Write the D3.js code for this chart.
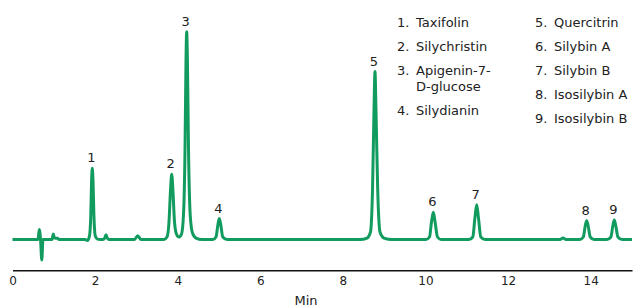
<!DOCTYPE html>
<html>
<head>
<meta charset="utf-8">
<title>Chromatogram</title>
<style>
  body { margin: 0; padding: 0; background: #fff; }
  svg text { font-family: "DejaVu Sans", Verdana, sans-serif; fill: #222; }
</style>
</head>
<body>
<div id="chart"></div>
<script src="https://d3js.org/d3.v7.min.js"></script>
<script>
// retention time (min) and detector signal (scaled so peak 3 = 100)
var traceTime = [
  0, 0.617, 0.649, 0.680, 0.709, 0.738, 0.956, 0.988, 1.017, 1.090, 1.126,
  1.755, 1.816, 1.864, 1.896, 1.915, 1.932, 1.949, 1.971, 2.005, 2.058, 2.119,
  2.191, 2.228, 2.264, 2.300, 2.337,
  2.954, 3.031, 3.111,
  3.668, 3.741, 3.789, 3.826, 3.855, 3.884, 3.923, 3.971, 4.031,
  4.092, 4.140, 4.177, 4.201, 4.218, 4.235, 4.262, 4.303, 4.358, 4.443, 4.588,
  4.855, 4.927, 4.976, 5.007, 5.039, 5.092, 5.194,
  8.414, 8.584, 8.668, 8.717, 8.753, 8.777, 8.801, 8.843, 8.898, 8.995, 9.189,
  10.012, 10.097, 10.145, 10.189, 10.232, 10.291, 10.375,
  11.053, 11.145, 11.196, 11.240, 11.283, 11.339, 11.441,
  13.257, 13.329, 13.402,
  13.741, 13.821, 13.867, 13.903, 13.939, 13.990, 14.080,
  14.395, 14.489, 14.535, 14.571, 14.608, 14.659, 14.758, 15.0
];
var traceSignal = [
  0, 0, 4.8, -0.2, -9.9, 0, 0, 2.6, 0.7, 0.6, 0,
  0, -0.5, 1.7, 11.8, 28.6, 34.3, 28.6, 11.8, 1.7, 0.2, 0,
  0, 0.5, 2.3, 0.5, 0,
  0, 1.8, 0,
  0, 1.2, 8.4, 23.8, 31.4, 23.8, 8.4, 2.6, 1.2,
  2.6, 11.8, 43.1, 86.4, 100, 86.4, 43.1, 11.8, 3.1, 0.7, 0,
  0, 1.2, 7.5, 10.1, 7.5, 1.2, 0,
  0, 0.7, 3.6, 23.8, 62.3, 80.8, 62.3, 23.8, 3.6, 0.7, 0,
  0, 1.2, 8.4, 13.1, 8.4, 1.2, 0,
  0, 1.2, 10.3, 16.7, 10.3, 1.2, 0,
  0, 0.7, 0,
  0, 1.2, 6.5, 9.0, 6.5, 1.2, 0,
  0, 1.2, 6.5, 9.4, 6.5, 1.2, 0, 0
];

var peakNumbers = ["1", "2", "3", "4", "5", "6", "7", "8", "9"];
var peakTimes   = [1.932, 3.855, 4.218, 5.007, 8.777, 10.189, 11.240, 13.903, 14.571];
var peakHeights = [34.3, 31.4, 100, 10.1, 80.8, 13.1, 16.7, 9.0, 9.4];

var compoundNames = [
  "Taxifolin", "Silychristin", "Apigenin-7-|D-glucose", "Silydianin",
  "Quercitrin", "Silybin A", "Silybin B", "Isosilybin A", "Isosilybin B"
];

var xTicks = [0, 2, 4, 6, 8, 10, 12, 14];
var xLabel = "Min";

var width = 633, height = 306;

var svg = d3.select("#chart").append("svg")
  .attr("width", width)
  .attr("height", height);

var x = d3.scaleLinear().domain([0, 15]).range([12.5, 632]);
var y = d3.scaleLinear().domain([0, 100]).range([239.5, 31.7]);

// x axis, no tick marks
var axis = svg.append("g")
  .attr("transform", "translate(0,270.3)")
  .call(d3.axisBottom(x).tickValues(xTicks).tickSize(0).tickPadding(6).tickFormat(d3.format("d")));
axis.select(".domain").attr("stroke", "#111").attr("stroke-width", 1.5);
axis.selectAll("text").attr("font-size", 12).attr("fill", "#222")
  .style("font-family", '"DejaVu Sans", Verdana, sans-serif');

svg.append("text")
  .attr("x", 306).attr("y", 304.5)
  .attr("text-anchor", "middle")
  .attr("font-size", 13)
  .text(xLabel);

// trace
var line = d3.line()
  .x(function(d, i) { return x(traceTime[i]); })
  .y(function(d) { return y(d); })
  .curve(d3.curveMonotoneX);

svg.append("path")
  .datum(traceSignal)
  .attr("d", line)
  .attr("fill", "none")
  .attr("stroke", "#129b5e")
  .attr("stroke-width", 3)
  .attr("stroke-linejoin", "round");

// peak numbers
svg.selectAll(".peak-label")
  .data(peakNumbers)
  .enter().append("text")
  .attr("class", "peak-label")
  .attr("x", function(d, i) { return x(peakTimes[i]) - 1; })
  .attr("y", function(d, i) { return y(peakHeights[i]) - 6; })
  .attr("text-anchor", "middle")
  .attr("font-size", 13)
  .text(function(d) { return d; });

// legend, two columns
var legendRows = [27, 51, 75, 115, 27, 51, 75, 99, 123];
var legend = svg.selectAll(".legend-item")
  .data(compoundNames)
  .enter().append("g")
  .attr("class", "legend-item")
  .attr("transform", function(d, i) {
    return "translate(" + (i < 4 ? 397 : 535) + "," + legendRows[i] + ")";
  });

legend.append("text")
  .attr("font-size", 13)
  .text(function(d, i) { return peakNumbers[i] + "."; });

legend.each(function(d) {
  var parts = d.split("|");
  var g = d3.select(this);
  parts.forEach(function(p, j) {
    g.append("text")
      .attr("x", 19)
      .attr("y", j * 16)
      .attr("font-size", 13)
      .text(p);
  });
});
</script>
</body>
</html>
